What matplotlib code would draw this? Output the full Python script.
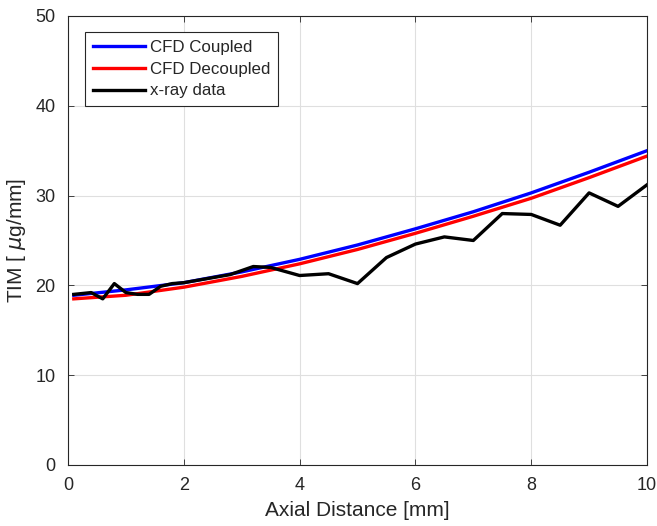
import numpy as np
import matplotlib
matplotlib.use("Agg")
import matplotlib.pyplot as plt

plt.rcParams["font.family"] = ["Liberation Sans", "DejaVu Sans"]
plt.rcParams["mathtext.fontset"] = "dejavusans"

# CFD curves
x_cfd = [0.1, 1, 2, 3, 4, 5, 6, 7, 8, 9, 10]
tim_coupled = [18.9, 19.5, 20.3, 21.5, 22.9, 24.5, 26.3, 28.2, 30.3, 32.6, 35.0]
tim_decoupled = [18.5, 18.9, 19.8, 21.0, 22.4, 24.0, 25.8, 27.7, 29.7, 32.0, 34.4]

# x-ray measurements
x_xray = [0.1, 0.4, 0.6, 0.8, 1.0, 1.2, 1.4, 1.6, 1.8, 2.0, 2.8, 3.2, 3.5, 4.0,
          4.5, 5.0, 5.5, 6.0, 6.5, 7.0, 7.5, 8.0, 8.5, 9.0, 9.5, 10.0]
tim_xray = [19.0, 19.2, 18.5, 20.2, 19.2, 19.0, 19.0, 19.9, 20.2, 20.3, 21.2, 22.1,
            22.0, 21.1, 21.3, 20.2, 23.1, 24.6, 25.4, 25.0, 28.0, 27.9, 26.7, 30.3,
            28.8, 31.2]

txt = "#262626"
fig = plt.figure(figsize=(6.57, 5.26), dpi=100)
ax = fig.add_axes([0.1035, 0.116, 0.8813, 0.8536])

ax.plot(x_cfd, tim_coupled, color="#0000ff", lw=2.4, label="CFD Coupled")
ax.plot(x_cfd, tim_decoupled, color="#ff0000", lw=2.4, label="CFD Decoupled")
ax.plot(x_xray, tim_xray, color="black", lw=2.4, label="x-ray data")

ax.set_xlim(0, 10)
ax.set_ylim(0, 50)
ax.set_xticks(np.arange(0, 11, 2))
ax.set_yticks(np.arange(0, 51, 10))
ax.grid(True, color="#dfdfdf", lw=0.8)
ax.set_axisbelow(True)
ax.tick_params(direction="in", length=4, width=0.6, colors=txt, labelsize=13,
               top=True, right=True, pad=9)
for s in ax.spines.values():
    s.set_color(txt)
    s.set_linewidth(0.8)

ax.set_xlabel("Axial Distance [mm]", fontsize=15, color=txt, labelpad=5)
ax.set_ylabel(r"TIM [ $\mu$g/mm]", fontsize=15, color=txt, labelpad=5)

leg = ax.legend(loc="upper left", bbox_to_anchor=(0.0294, 0.9644), fontsize=12.2,
                frameon=True, fancybox=False, edgecolor=txt, framealpha=1,
                borderaxespad=0, handlelength=3.1, borderpad=0.45,
                labelspacing=0.41, handletextpad=0.3)
leg.get_frame().set_linewidth(0.8)
for t in leg.get_texts():
    t.set_color(txt)

fig.savefig("out.png", dpi=100)
